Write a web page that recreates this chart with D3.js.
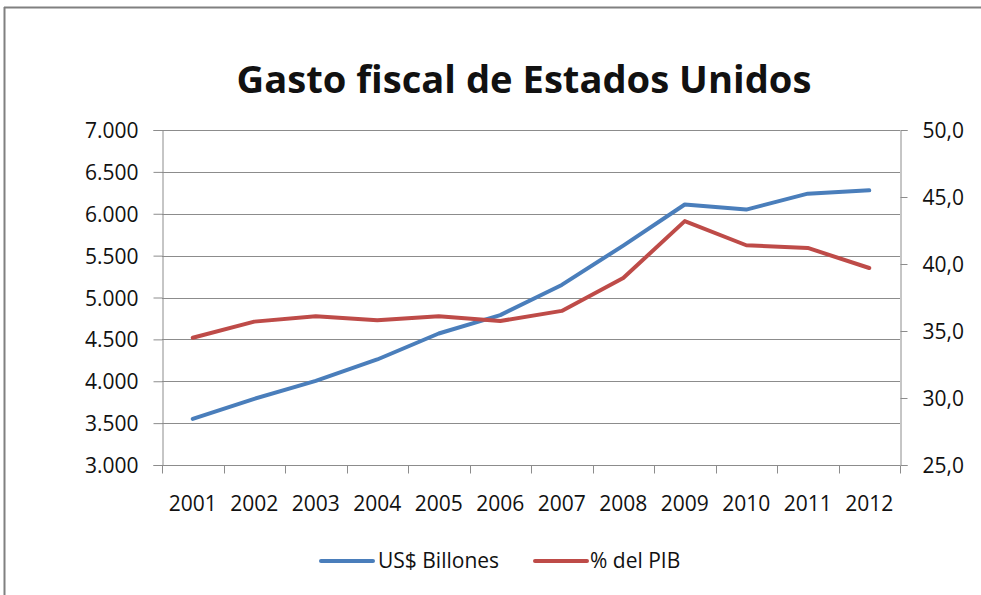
<!DOCTYPE html>
<html>
<head>
<meta charset="utf-8">
<script src="https://cdn.jsdelivr.net/npm/d3@7/dist/d3.min.js"></script>
<style>
  html, body { margin: 0; padding: 0; background: #fff; }
  svg { display: block; }
  text { font-family: "Open Sans", "Liberation Sans", sans-serif; fill: #111; }
</style>
</head>
<body>
<svg id="chart" width="981" height="595"></svg>
<script>
// ---- data ----
const years = ["2001","2002","2003","2004","2005","2006","2007","2008","2009","2010","2011","2012"];
const usdBillions = [3550, 3790, 4005, 4260, 4570, 4790, 5150, 5620, 6110, 6050, 6240, 6280];
const pctGDP = [34.5, 35.7, 36.1, 35.8, 36.1, 35.75, 36.5, 38.95, 43.2, 41.4, 41.2, 39.7];
const leftTicks = [3000, 3500, 4000, 4500, 5000, 5500, 6000, 6500, 7000];
const rightTicks = [25, 30, 35, 40, 45, 50];
const seriesNames = ["US$ Billones", "% del PIB"];
const titleText = "Gasto fiscal de Estados Unidos";

// ---- layout ----
const W = 981, H = 595;
const plot = { left: 162, right: 900, top: 130, bottom: 465 };
const blue = "#4A7EBB", red = "#BE4B48", grid = "#8c8c8c";

const svg = d3.select("#chart");

// frame (top and left border)
svg.append("line").attr("x1", 4).attr("x2", W).attr("y1", 7.5).attr("y2", 7.5)
  .attr("stroke", "#808080").attr("stroke-width", 2);
svg.append("line").attr("x1", 4.5).attr("x2", 4.5).attr("y1", 7).attr("y2", H)
  .attr("stroke", "#808080").attr("stroke-width", 2);

const x = d3.scaleBand().domain(years).range([plot.left, plot.right]);
const yL = d3.scaleLinear().domain([3000, 7000]).range([plot.bottom, plot.top]);
const yR = d3.scaleLinear().domain([25, 50]).range([plot.bottom, plot.top]);

const fmtL = v => d3.format(",")(v).replace(/,/g, ".");
const fmtR = v => d3.format(".1f")(v).replace(".", ",");

// gridlines
svg.append("g").selectAll("line").data(leftTicks.slice(1)).join("line")
  .attr("x1", plot.left).attr("x2", plot.right)
  .attr("y1", d => Math.round(yL(d)) + 0.5).attr("y2", d => Math.round(yL(d)) + 0.5)
  .attr("stroke", grid).attr("stroke-width", 1);

// left axis
const gL = svg.append("g").attr("transform", `translate(${plot.left + 0.5},0)`)
  .call(d3.axisLeft(yL).tickValues(leftTicks).tickFormat(fmtL).tickSize(9).tickPadding(15));
// right axis
const gR = svg.append("g").attr("transform", `translate(${plot.right + 0.5},0)`)
  .call(d3.axisRight(yR).tickValues(rightTicks).tickFormat(fmtR).tickSize(7).tickPadding(15));
// bottom axis (ticks at category boundaries)
const gB = svg.append("g").attr("transform", `translate(0,${plot.bottom + 0.5})`)
  .call(d3.axisBottom(x).tickSize(0).tickPadding(31));
gB.selectAll(".tick line").remove();
const bounds = years.map(d => x(d)).concat([plot.right]);
gB.selectAll("line.b").data(bounds).join("line").attr("class", "b")
  .attr("x1", d => Math.round(d) + 0.5).attr("x2", d => Math.round(d) + 0.5)
  .attr("y1", 0).attr("y2", 8).attr("stroke", grid);

[gL, gR, gB].forEach(g => {
  g.selectAll(".domain").attr("stroke", grid).attr("stroke-width", 1);
  g.selectAll(".tick line").attr("stroke", grid);
  g.selectAll("text").style("font-size", "21px").attr("fill", "#111");
});
gB.select(".domain").attr("d", `M${plot.left},0H${plot.right}`);
gL.selectAll("text").attr("dy", "0.36em");
gR.selectAll("text").attr("dy", "0.36em");

// lines
const cx = d => x(d) + x.bandwidth() / 2;
const lineL = d3.line().x((d, i) => cx(years[i])).y(d => yL(d));
const lineR = d3.line().x((d, i) => cx(years[i])).y(d => yR(d));
svg.append("path").datum(usdBillions).attr("d", lineL)
  .attr("fill", "none").attr("stroke", blue).attr("stroke-width", 4)
  .attr("stroke-linejoin", "round").attr("stroke-linecap", "round");
svg.append("path").datum(pctGDP).attr("d", lineR)
  .attr("fill", "none").attr("stroke", red).attr("stroke-width", 4)
  .attr("stroke-linejoin", "round").attr("stroke-linecap", "round");

// title
const title = svg.append("text").attr("x", 524).attr("y", 93)
  .attr("text-anchor", "middle").style("font-weight", "bold").style("font-size", "40px")
  .attr("fill", "#000").text(titleText);
const tw = title.node().getComputedTextLength();
title.style("font-size", (40 * 575 / tw).toFixed(2) + "px");

// legend
const legend = [
  { name: seriesNames[0], color: blue, x0: 321, tx: 378 },
  { name: seriesNames[1], color: red, x0: 535, tx: 590 }
];
const lg = svg.append("g");
legend.forEach(l => {
  lg.append("line").attr("x1", l.x0).attr("x2", l.x0 + 52).attr("y1", 561).attr("y2", 561)
    .attr("stroke", l.color).attr("stroke-width", 4).attr("stroke-linecap", "round");
  lg.append("text").attr("x", l.tx).attr("y", 567.5).style("font-size", "21px")
    .attr("fill", "#111").text(l.name);
});
</script>
</body>
</html>
